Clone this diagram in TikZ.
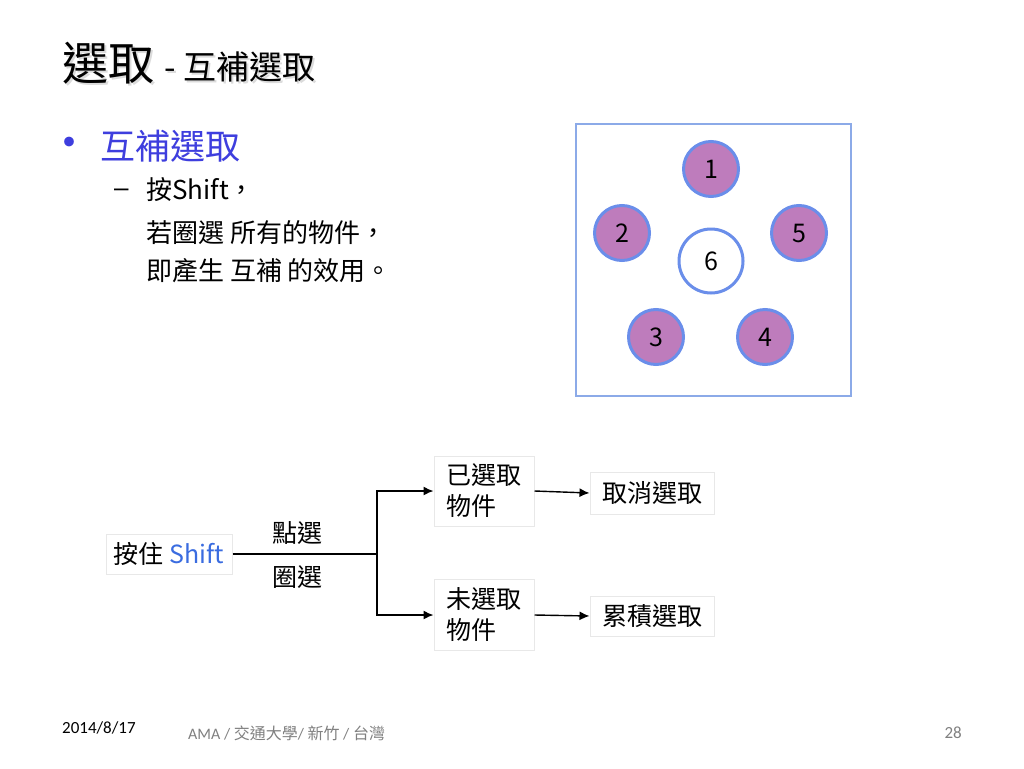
\documentclass[tikz,border=0pt]{standalone}
\usepackage{fontspec}
\setmainfont[Script=CJK,Language=Chinese Traditional]{Noto Sans CJK TC}
\newfontfamily\calfont{Carlito}
\newfontfamily\dashfont{Liberation Sans}
\usetikzlibrary{arrows.meta}
\definecolor{bulblue}{RGB}{62,62,222}
\definecolor{shiftblue}{RGB}{58,108,224}
\definecolor{circpurple}{RGB}{190,124,188}
\definecolor{circblue}{RGB}{106,142,234}
\definecolor{frameblue}{RGB}{140,170,232}
\definecolor{boxgray}{RGB}{232,232,232}
\definecolor{footgray}{RGB}{128,128,128}
\tikzset{
  txt/.style={inner sep=0pt, anchor=west},
  pcirc/.style={circle, draw=circblue, line width=3pt, fill=circpurple, minimum size=55pt, inner sep=0pt, font=\fontsize{25}{25}\selectfont},
  wcirc/.style={circle, draw=circblue, line width=3pt, fill=white, minimum size=64pt, inner sep=0pt, font=\fontsize{25}{25}\selectfont},
  fbox/.style={draw=boxgray, line width=1pt, inner sep=0pt, font=\fontsize{25}{31}\selectfont},
  conn/.style={line width=1.4pt},
  arr/.style={line width=1.4pt, -{Latex[length=10pt,width=9pt]}},
}
\begin{document}
\begin{tikzpicture}[x=1pt,y=-1pt]
\useasboundingbox[fill=white] (0,0) rectangle (1024,768);
% title with soft shadow
\node[txt, text=black!14] at (64,65) {\fontsize{46}{46}\selectfont 選取};
\node[txt] (t1) at (62,63) {\fontsize{46}{46}\selectfont 選取};
\node[txt, text=black!14] at (166,69) {\fontsize{33}{33}\selectfont - 互補選取};
\node[txt] (t2) at (164,67) {\fontsize{33}{33}\selectfont - 互補選取};
% bullet
\node[txt, text=bulblue] (b0) at (46,148) {\fontsize{46}{46}\selectfont •};
\node[txt, text=bulblue] (b1) at (100,146) {\fontsize{35}{35}\selectfont 互補選取};
\node[txt] (d0) at (114,193) {\dashfont\fontsize{26}{26}\selectfont –};
\node[txt] (l1) at (146,190) {\fontsize{26}{26}\selectfont 按Shift，};
\node[txt] (l2) at (146,233) {\fontsize{26}{26}\selectfont 若圈選 所有的物件，};
\node[txt] (l3) at (146,271) {\fontsize{26}{26}\selectfont 即產生 互補 的效用。};
% circle panel
\draw[frameblue, line width=1.2pt] (576,124) rectangle (851,396);
\node[pcirc] (c1) at (711,169) {1};
\node[pcirc] (c2) at (622,233) {2};
\node[pcirc] (c5) at (799,233) {5};
\node[wcirc] (c6) at (711,261) {6};
\node[pcirc] (c3) at (656,337) {3};
\node[pcirc] (c4) at (765,337) {4};
% flow chart
\node[fbox, minimum width=126pt, minimum height=40pt] (shift) at (169,554) {按住 \textcolor{shiftblue}{Shift}};
\node[fbox, minimum width=100pt, minimum height=70pt, align=left] (sel) at (484,491) {已選取\\物件};
\node[fbox, minimum width=124pt, minimum height=42pt] (cancel) at (652,493) {取消選取};
\node[fbox, minimum width=100pt, minimum height=71pt, align=left] (unsel) at (484,615) {未選取\\物件};
\node[fbox, minimum width=124pt, minimum height=40pt] (accum) at (652,616) {累積選取};
\coordinate (j) at (377,554);
\draw[conn] (shift.east) -- (j);
\draw[arr] (j) |- (sel.west);
\draw[arr] (j) |- (unsel.west);
\draw[arr] (sel.east) -- (cancel.west);
\draw[arr] (unsel.east) -- (accum.west);
\node[inner sep=0pt, font=\fontsize{25}{25}\selectfont] (lab1) at (297,533) {點選};
\node[inner sep=0pt, font=\fontsize{25}{25}\selectfont] (lab2) at (297,577) {圈選};
% footer
\node[txt] (date) at (62,728) {\calfont\fontsize{17}{17}\selectfont 2014/8/17};
\node[txt, text=footgray] (org) at (188,733) {\fontsize{16}{16}\selectfont {\calfont AMA / }交通大學{\calfont / }新竹{\calfont{} / }台灣};
\node[inner sep=0pt, anchor=east, text=footgray] (pg) at (962,733) {\calfont\fontsize{17}{17}\selectfont 28};
\end{tikzpicture}
\end{document}
